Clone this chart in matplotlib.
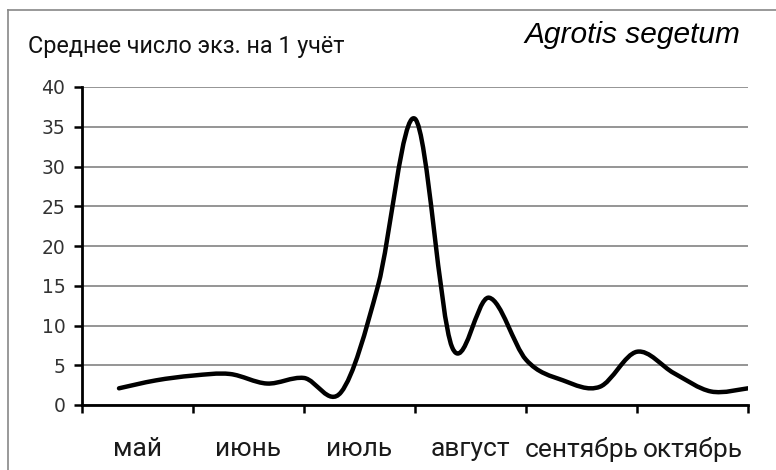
import matplotlib
matplotlib.use("Agg")
import matplotlib.pyplot as plt
import numpy as np
from matplotlib.path import Path
from matplotlib.patches import PathPatch
from matplotlib.lines import Line2D

# decade counts, May..October (3 per month)
decades = np.arange(1, 19)
counts = [2.1, 3.1, 3.7, 3.9, 2.7, 3.4, 1.6, 15.0, 36.0,
          7.3, 13.5, 5.7, 3.1, 2.3, 6.7, 4.0, 1.7, 2.1]
months = ["май", "июнь", "июль", "август", "сентябрь", "октябрь"]

fig = plt.figure(figsize=(7.76, 4.70), dpi=100)
ax = fig.add_axes([82 / 776, 1 - 405 / 470, 666 / 776, 318 / 470])

# smoothed line like Excel (Bezier through every point)
x = np.asarray(decades, dtype=float)
y = np.asarray(counts, dtype=float)
n = len(x)
verts = [(x[0], y[0])]
codes = [Path.MOVETO]
for i in range(n - 1):
    xp, yp = (x[i - 1], y[i - 1]) if i > 0 else (x[i], y[i])
    xn, yn = (x[i + 2], y[i + 2]) if i + 2 < n else (x[i + 1], y[i + 1])
    c1 = (x[i] + (x[i + 1] - xp) / 6, y[i] + (y[i + 1] - yp) / 6)
    c2 = (x[i + 1] - (xn - x[i]) / 6, y[i + 1] - (yn - y[i]) / 6)
    verts += [c1, c2, (x[i + 1], y[i + 1])]
    codes += [Path.CURVE4] * 3
ax.add_patch(PathPatch(Path(verts, codes), fill=False, edgecolor="black",
                       lw=3.2, capstyle="round", joinstyle="round", zorder=3))

ax.set_xlim(0, 18)
ax.set_ylim(0, 40)
ax.set_yticks(np.arange(0, 41, 5))
ax.yaxis.grid(True, color="#8c8c8c", lw=1.3)
ax.set_axisbelow(True)

ax.set_xticks(np.arange(0, 19, 3))
ax.set_xticklabels([])
ax.set_xticks(np.arange(1.5, 18, 3), minor=True)
ax.set_xticklabels(months, minor=True, fontsize=19, family="Roboto",
                   color="#1a1a1a")
ax.tick_params(axis="x", which="minor", length=0, pad=23)
ax.tick_params(axis="x", which="major", direction="out", length=6, width=1.8,
               color="black")
ax.tick_params(axis="y", direction="out", length=6, width=1.8, color="black",
               labelsize=13.5, labelcolor="#333333", pad=6)

for s in ["top", "right"]:
    ax.spines[s].set_visible(False)
for s in ["left", "bottom"]:
    ax.spines[s].set_linewidth(2)
    ax.spines[s].set_color("black")

fig.text(28 / 776, 1 - 46 / 470, "Среднее число экз. на 1 учёт",
         fontsize=16.8, family="Roboto", color="#111111", va="center")
fig.text(740 / 776, 1 - 35 / 470, "Agrotis segetum", fontsize=21.5,
         family="Liberation Sans", style="italic", ha="right", va="center")

# outer frame (left and top edges visible)
fig.add_artist(Line2D([8 / 776, 8 / 776], [0, 1 - 10 / 470],
                      transform=fig.transFigure, color="#888888", lw=1.2))
fig.add_artist(Line2D([8 / 776, 1], [1 - 10 / 470, 1 - 10 / 470],
                      transform=fig.transFigure, color="#888888", lw=1.2))

fig.savefig("out.png", dpi=100)
